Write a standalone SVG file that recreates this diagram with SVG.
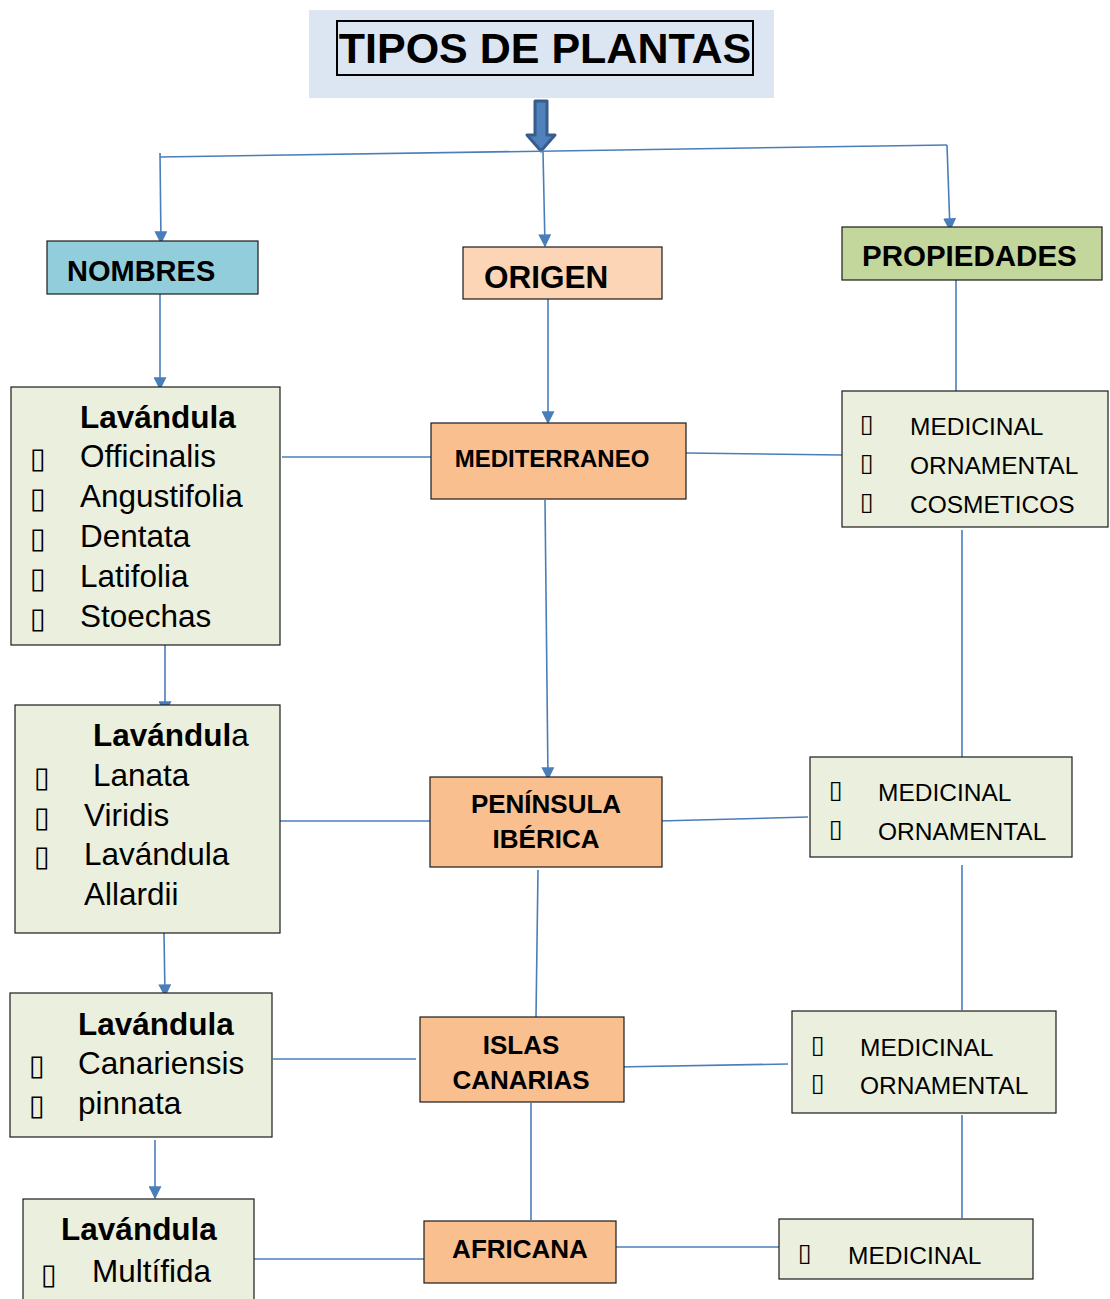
<svg xmlns="http://www.w3.org/2000/svg" width="1110" height="1299" viewBox="0 0 1110 1299">
<defs>
<marker id="ah" viewBox="0 0 10 10" refX="9" refY="5" markerWidth="13" markerHeight="13" markerUnits="userSpaceOnUse" orient="auto">
<path d="M0,0 L10,5 L0,10 z" fill="#4a7ebb"/>
</marker>
<style>
.ln{stroke:#4a7ebb;stroke-width:1.6;fill:none}
.box{stroke:#1a1a1a;stroke-width:1.2}
.lav{fill:#ebf0de}
.org{fill:#f9bf8f}
.b{font-family:"Liberation Sans",Arial,sans-serif;font-weight:bold;fill:#000}
.r{font-family:"Liberation Sans",Arial,sans-serif;fill:#000}
.blt{font-family:"DejaVu Sans",sans-serif;fill:#000}
</style>
</defs>
<rect width="1110" height="1299" fill="#fff"/>

<g id="title">
<rect x="309" y="10" width="465" height="88" fill="#dce6f2"/>
<rect x="337" y="21" width="416" height="54" fill="none" stroke="#000" stroke-width="2"/>
<text x="545" y="63" text-anchor="middle" class="b" font-size="43">TIPOS DE PLANTAS</text>
</g>

<g id="block-arrow">
<path d="M535,101 L547,101 L547,135 L555,135 L541,151 L527,135 L535,135 Z" fill="#4f81bd" stroke="#385d8a" stroke-width="3" stroke-linejoin="round"/>
</g>

<g id="connectors">
<path class="ln" d="M160,157 L947,145"/>
<path class="ln" d="M160,153 L161,243" marker-end="url(#ah)"/>
<path class="ln" d="M543,152 L545,246" marker-end="url(#ah)"/>
<path class="ln" d="M947,145 L950,230" marker-end="url(#ah)"/>
<path class="ln" d="M160,294 L160,389" marker-end="url(#ah)"/>
<path class="ln" d="M548,299 L548,423" marker-end="url(#ah)"/>
<path class="ln" d="M956,280 L956,391"/>
<path class="ln" d="M282,457 L431,457"/>
<path class="ln" d="M686,453 L842,455"/>
<path class="ln" d="M545,500 L548,779" marker-end="url(#ah)"/>
<path class="ln" d="M962,530 L962,758"/>
<path class="ln" d="M165,645 L165,713" marker-end="url(#ah)"/>
<path class="ln" d="M277,821 L430,821"/>
<path class="ln" d="M659,821 L808,817"/>
<path class="ln" d="M538,870 L536,1017"/>
<path class="ln" d="M962,865 L962,1010"/>
<path class="ln" d="M164,933 L165,996" marker-end="url(#ah)"/>
<path class="ln" d="M273,1059 L416,1059"/>
<path class="ln" d="M616,1067 L788,1064"/>
<path class="ln" d="M531,1103 L531,1220"/>
<path class="ln" d="M962,1115 L962,1218"/>
<path class="ln" d="M155,1140 L155,1198" marker-end="url(#ah)"/>
<path class="ln" d="M254,1259 L424,1259"/>
<path class="ln" d="M616,1247 L779,1247"/>
</g>

<g id="nombres">
<rect x="47" y="241" width="211" height="53" fill="#92cddc" class="box"/>
<text x="67" y="281" class="b" font-size="29">NOMBRES</text>
</g>
<g id="origen">
<rect x="463" y="247" width="199" height="52" fill="#fbd5b5" class="box"/>
<text x="484" y="288" class="b" font-size="31.5">ORIGEN</text>
</g>
<g id="propiedades">
<rect x="842" y="227" width="260" height="53" fill="#c3d69b" class="box"/>
<text x="862" y="266" class="b" font-size="29.5">PROPIEDADES</text>
</g>

<g id="lavandula-1">
<rect x="11" y="387" width="269" height="258" class="box lav"/>
<text x="80" y="428" class="b" font-size="31.5">Lavándula</text>
<g class="blt" font-size="29">
<text x="30" y="468">▯</text><text x="30" y="508">▯</text><text x="30" y="548">▯</text><text x="30" y="588">▯</text><text x="30" y="628">▯</text>
</g>
<g class="r" font-size="31.5">
<text x="80" y="467">Officinalis</text>
<text x="80" y="507">Angustifolia</text>
<text x="80" y="547">Dentata</text>
<text x="80" y="587">Latifolia</text>
<text x="80" y="627">Stoechas</text>
</g>
</g>

<g id="mediterraneo">
<rect x="431" y="423" width="255" height="76" class="box org"/>
<text x="552" y="467" text-anchor="middle" class="b" font-size="24">MEDITERRANEO</text>
</g>

<g id="prop-1">
<rect x="842" y="391" width="266" height="136" class="box lav"/>
<g class="blt" font-size="25">
<text x="860" y="432">▯</text><text x="860" y="471">▯</text><text x="860" y="510">▯</text>
</g>
<g class="r" font-size="24.5">
<text x="910" y="435">MEDICINAL</text>
<text x="910" y="474">ORNAMENTAL</text>
<text x="910" y="513">COSMETICOS</text>
</g>
</g>

<g id="lavandula-2">
<rect x="15" y="705" width="265" height="228" class="box lav"/>
<text x="93" y="746" class="b" font-size="31.5">Lavándul<tspan font-weight="normal">a</tspan></text>
<g class="blt" font-size="29">
<text x="34" y="787">▯</text><text x="34" y="827">▯</text><text x="34" y="866">▯</text>
</g>
<g class="r" font-size="31.5">
<text x="93" y="786">Lanata</text>
<text x="84" y="826">Viridis</text>
<text x="84" y="865">Lavándula</text>
<text x="84" y="905">Allardii</text>
</g>
</g>

<g id="peninsula">
<rect x="430" y="777" width="232" height="90" class="box org"/>
<text x="546" y="813" text-anchor="middle" class="b" font-size="26">PENÍNSULA</text>
<text x="546" y="848" text-anchor="middle" class="b" font-size="26">IBÉRICA</text>
</g>

<g id="prop-2">
<rect x="810" y="757" width="262" height="100" class="box lav"/>
<g class="blt" font-size="25">
<text x="829" y="798">▯</text><text x="829" y="837">▯</text>
</g>
<g class="r" font-size="24.5">
<text x="878" y="801">MEDICINAL</text>
<text x="878" y="840">ORNAMENTAL</text>
</g>
</g>

<g id="lavandula-3">
<rect x="10" y="993" width="262" height="144" class="box lav"/>
<text x="78" y="1035" class="b" font-size="31.5">Lavándula</text>
<g class="blt" font-size="29">
<text x="29" y="1075">▯</text><text x="29" y="1115">▯</text>
</g>
<g class="r" font-size="31.5">
<text x="78" y="1074">Canariensis</text>
<text x="78" y="1114">pinnata</text>
</g>
</g>

<g id="islas-canarias">
<rect x="420" y="1017" width="204" height="85" class="box org"/>
<text x="521" y="1054" text-anchor="middle" class="b" font-size="26">ISLAS</text>
<text x="521" y="1089" text-anchor="middle" class="b" font-size="26">CANARIAS</text>
</g>

<g id="prop-3">
<rect x="792" y="1011" width="264" height="102" class="box lav"/>
<g class="blt" font-size="25">
<text x="811" y="1053">▯</text><text x="811" y="1091">▯</text>
</g>
<g class="r" font-size="24.5">
<text x="860" y="1056">MEDICINAL</text>
<text x="860" y="1094">ORNAMENTAL</text>
</g>
</g>

<g id="lavandula-4">
<rect x="23" y="1199" width="231" height="110" class="box lav"/>
<text x="139" y="1240" text-anchor="middle" class="b" font-size="31.5">Lavándula</text>
<text x="41" y="1284" class="blt" font-size="29">▯</text>
<text x="92" y="1282" class="r" font-size="31.5">Multífida</text>
</g>

<g id="africana">
<rect x="424" y="1221" width="192" height="62" class="box org"/>
<text x="520" y="1258" text-anchor="middle" class="b" font-size="26">AFRICANA</text>
</g>

<g id="prop-4">
<rect x="779" y="1219" width="254" height="60" class="box lav"/>
<text x="798" y="1261" class="blt" font-size="25">▯</text>
<text x="848" y="1264" class="r" font-size="24.5">MEDICINAL</text>
</g>
</svg>
